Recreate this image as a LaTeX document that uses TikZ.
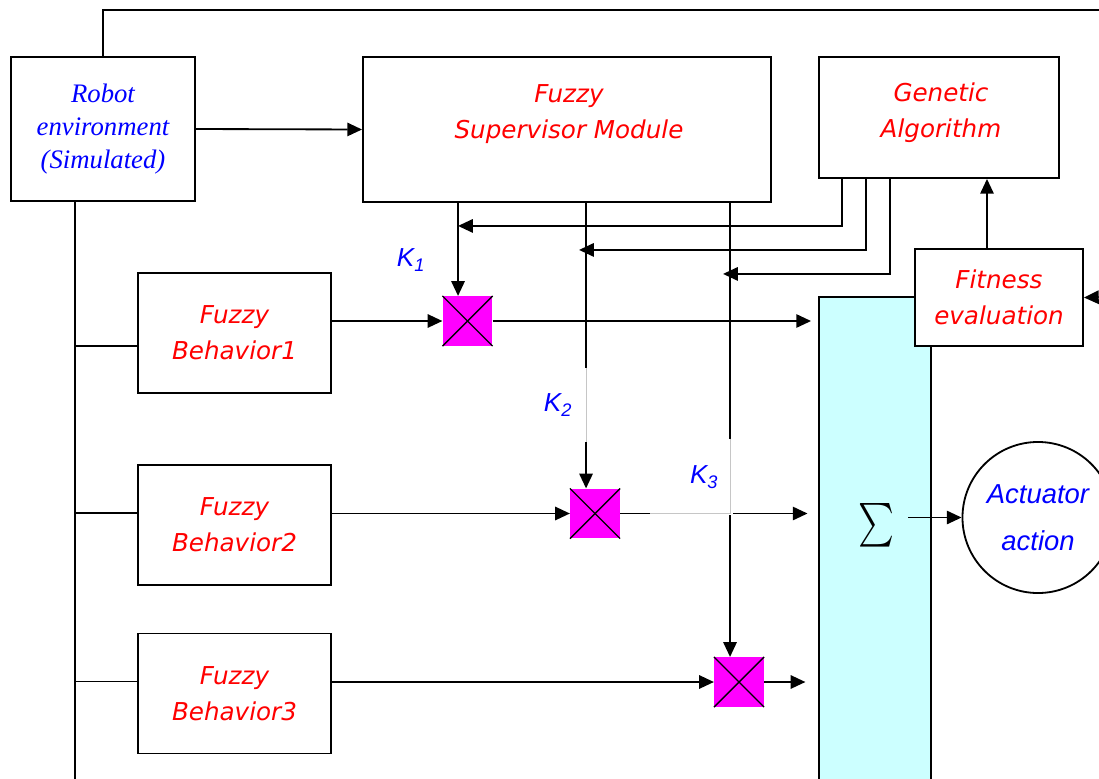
\documentclass[tikz,border=0pt]{standalone}
\usepackage{fontspec}
\setmainfont{Liberation Serif}
\newfontfamily\arialfont{Liberation Sans}
\newfontfamily\comicfont{DejaVu Sans}
\usetikzlibrary{arrows.meta,positioning,calc}
\definecolor{sumcyan}{RGB}{204,255,255}
\definecolor{gainblue}{RGB}{0,0,255}
\definecolor{multmag}{RGB}{255,0,255}

\begin{document}
\begin{tikzpicture}[
  x=0.025cm, y=-0.025cm,
  box/.style={draw, line width=1.3pt, fill=white, inner sep=0pt, align=center},
  fuzzy/.style={text=red, align=center,
                font=\comicfont\itshape\fontsize{17.5}{25.5}\selectfont},
  envtext/.style={text=gainblue, align=center,
                  font=\itshape\fontsize{19}{23.5}\selectfont},
  gain/.style={text=gainblue, fill=white, inner sep=0pt,
               font=\arialfont\itshape\fontsize{18.5}{20}\selectfont},
  mult/.style={fill=multmag, minimum size=1.24cm, inner sep=0pt},
  wire/.style={line width=1.3pt},
  arr/.style={-{Triangle[length=10.5pt,width=9.5pt]}, line width=1.3pt},
  faint/.style={gray!45, line width=0.4pt},
]
\useasboundingbox (0,0) rectangle (1099,778);
\clip (0,0) rectangle (1099,778);

%% -- blocks ----------------------------------------------------------------
\node[box, envtext, minimum width=4.6cm, minimum height=3.6cm]
  (env) at (103,129) {Robot\\environment\\(Simulated)};
\node[box, minimum width=10.2cm, minimum height=3.625cm] (sup) at (567,129.5) {};
\node[fuzzy] (suptxt) at (569,114) {Fuzzy\\Supervisor Module};
\node[box, minimum width=6cm, minimum height=3.025cm] (ga) at (939,117.5) {};
\node[fuzzy] (gatxt) at (941,113) {Genetic\\Algorithm};

\node[box, fill=sumcyan, minimum width=2.8cm, minimum height=12.6cm]
  (sumbox) at (875,549) {};
\node[box, fuzzy, minimum width=4.2cm, minimum height=2.425cm]
  (fit) at (999,297.5) {Fitness\\evaluation};
\node[inner sep=10pt] (sig) at (876,525) {\scalebox{2.42}[3.1]{$\sum$}};
\node[draw, circle, line width=1.3pt, minimum size=3.775cm, inner sep=0pt,
      text=gainblue, align=center, font=\arialfont\itshape\fontsize{19.5}{33}\selectfont]
  (act) at (1038,517.5) {Actuator\\action};

\node[box, fuzzy, minimum width=4.825cm, minimum height=3cm] (b1) at (234.5,333) {Fuzzy\\Behavior1};
\node[box, fuzzy, minimum width=4.825cm, minimum height=3cm] (b2) at (234.5,525) {Fuzzy\\Behavior2};
\node[box, fuzzy, minimum width=4.825cm, minimum height=3cm] (b3) at (234.5,693.5) {Fuzzy\\Behavior3};

\node[mult] (m1) at (467.5,321) {};
\node[mult] (m2) at (595,513.5) {};
\node[mult] (m3) at (739,682) {};
\foreach \m in {m1,m2,m3} {
  \draw[line width=1pt] (\m.north west) -- (\m.south east);
  \draw[line width=1pt] (\m.south west) -- (\m.north east);
}

%% -- tap points ------------------------------------------------------------
\path (sup.south west) ++(96,0) coordinate (s1) ++(128,0) coordinate (s2)
      ++(144,0) coordinate (s3);
\path (ga.south west) ++(24,0) coordinate (g1) ++(24,0) coordinate (g2)
      ++(24,0) coordinate (g3);
\path ($(fit.north)+(-12,0)$) coordinate (fup);
\coordinate (topR) at (1110,10);
\coordinate (fin) at (1110,297);
\coordinate (bus) at (75,790);

%% -- environment feeds -----------------------------------------------------
\draw[wire] (env.north) |- (topR);
\draw[arr] (env.east) -- (sup.west);
\draw[wire] (env.south -| bus) -- (bus);
\foreach \b/\dy in {b1/-9.2pt, b2/8.5pt, b3/8.5pt}
  \draw[wire] ([yshift=\dy]\b.west) -- ([yshift=\dy]\b.west -| bus);

%% -- GA tuning the supervisor outputs --------------------------------------
\draw[arr] (g1) |- ($(s1)+(0,23)$);
\draw[arr] (g2) |- ($(s2)+(-7,47)$);
\draw[arr] (g3) |- ($(s3)+(-7,71)$);
\draw[arr] (fup) -- (fup |- ga.south);
\draw[arr] (fin) -- (fit.east);

%% -- gains K1..K3 ----------------------------------------------------------
\draw[arr] (s1) -- (s1 |- m1.north);
\draw[arr] (s2) -- (s2 |- m2.north);
\draw[arr] (s3) -- (s3 |- m3.north);

%% -- behaviours through the multipliers into the sum -----------------------
\draw[arr] (m1 -| b1.east) -- (m1.west);
\draw[arr] (m2 -| b2.east) -- (m2.west);
\draw[arr] (m3 -| b3.east) -- (m3.west);
\draw[arr, shorten >=5pt] (m1.east) -- (m1 -| sumbox.west);
\draw[arr, shorten >=7.5pt] (m2.east) -- (m2 -| sumbox.west);
\draw[arr, shorten >=9pt] (m3.east) -- (m3 -| sumbox.west);
\draw[arr] (act.west -| sig.east) -- (act.west);

%% -- gain labels -----------------------------------------------------------
\node[gain] (k1) at (411,260) {K\textsubscript{1}};
\node[gain, minimum width=1.525cm, minimum height=1.85cm] (k2) at (558,405) {K\textsubscript{2}};
\node[gain, minimum width=2.075cm, minimum height=1.9cm] (k3) at (691.5,477) {\hspace*{18pt}K\textsubscript{3}};
\draw[faint] (s2 |- k2.north) -- (s2 |- k2.south);
\draw[faint] (s3 |- k3.north) -- (s3 |- m2) -- (k3.west |- m2);

\end{tikzpicture}
\end{document}
